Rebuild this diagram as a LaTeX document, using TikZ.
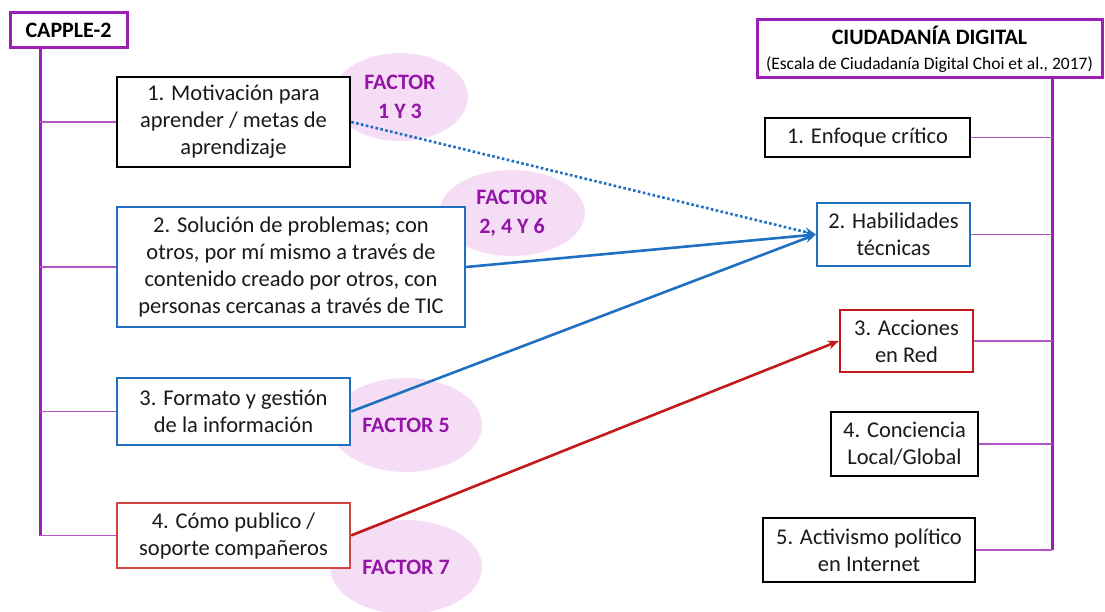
\documentclass[tikz,border=0pt]{standalone}
\usepackage{fontspec}
\setmainfont{Carlito}
\usetikzlibrary{shapes.geometric,arrows.meta}
\definecolor{pframe}{HTML}{9E1FB8}
\definecolor{ptext}{HTML}{9414A8}
\definecolor{pthin}{HTML}{B455C8}
\definecolor{pinkfill}{HTML}{F6DDF6}
\definecolor{cblue}{HTML}{1F70C1}
\definecolor{cred}{HTML}{C21A1A}
\definecolor{cred2}{HTML}{D2443F}
\definecolor{tcol}{HTML}{1A1A1A}
\tikzset{
  boxbase/.style={draw, line width=2.4pt, fill=white, align=center, inner sep=0pt,
    text=tcol, font=\fontsize{22.5}{27}\selectfont},
  blackbox/.style={boxbase, draw=black},
  bluebox/.style={boxbase, draw=cblue},
  redbox/.style={boxbase, draw=cred},
  redbox2/.style={boxbase, draw=cred2},
  titlebox/.style={draw=pframe, line width=3pt, fill=white, align=center, inner sep=0pt, text=black},
  factor/.style={ellipse, fill=pinkfill, inner sep=0pt, align=center, text=ptext,
    font=\bfseries\fontsize{22}{29}\selectfont},
  trunk/.style={draw=pframe, line width=3pt},
  branch/.style={draw=pthin, line width=1.3pt},
  arr/.style={line width=2.6pt, -{Stealth[length=11pt,width=9pt]}},
}
\begin{document}
\begin{tikzpicture}[x=1pt,y=-1pt]
\useasboundingbox (0,0) rectangle (1105,612);

% factor ellipses (behind)
\node[factor, minimum width=136, minimum height=88] (e1) at (400,97) {FACTOR\\1 Y 3};
\node[factor, minimum width=146, minimum height=86] (e2) at (512,213) {FACTOR\\2, 4 Y 6};
\node[factor, minimum width=152, minimum height=94] (e3) at (406,425) {FACTOR 5};
\node[factor, minimum width=152, minimum height=94] (e4) at (406,567) {FACTOR 7};

% left side
\node[titlebox, minimum width=117, minimum height=35, font=\bfseries\fontsize{22}{27}\selectfont] (capple) at (68.5,30.5) {CAPPLE-2};
\node[blackbox, minimum width=233, minimum height=90] (b1) at (233.5,122) {1. Motivación para\\aprender / metas de\\aprendizaje};
\node[bluebox, minimum width=348, minimum height=120] (b2) at (291,267) {2. Solución de problemas; con\\otros, por mí mismo a través de\\contenido creado por otros, con\\personas cercanas a través de TIC};
\node[bluebox, minimum width=233, minimum height=67] (b3) at (233.5,411.5) {3. Formato y gestión\\de la información};
\node[redbox2, minimum width=233, minimum height=65] (b4) at (233.5,535.5) {4. Cómo publico /\\soporte compañeros};

\coordinate (lb) at (40,535.5);
\draw[trunk] (capple.south -| lb) -- (lb);
\draw[branch] (b1.west) -- (b1.west -| lb);
\draw[branch] (b2.west) -- (b2.west -| lb);
\draw[branch] (b3.west) -- (b3.west -| lb);
\draw[branch] (b4.west) -- (b4.west -| lb);

% right side
\node[titlebox, minimum width=345, minimum height=58, font=\fontsize{17.5}{25}\selectfont] (cd) at (929.5,49)
  {{\bfseries\fontsize{22}{25}\selectfont CIUDADANÍA DIGITAL}\\
   (Escala de Ciudadanía Digital Choi et al., 2017)};
\node[blackbox, minimum width=205, minimum height=39] (r1) at (867.5,137.5) {1. Enfoque crítico};
\node[bluebox, minimum width=153, minimum height=63] (r2) at (893.5,234.5) {2. Habilidades\\técnicas};
\node[redbox, minimum width=133, minimum height=62] (r3) at (906.5,341) {3. Acciones\\en Red};
\node[blackbox, minimum width=147, minimum height=64] (r4) at (904.5,444) {4. Conciencia\\Local/Global};
\node[blackbox, minimum width=212, minimum height=64] (r5) at (869,550) {5. Activismo político\\en Internet};

\coordinate (rb) at (1052,550);
\draw[trunk] (cd.south -| rb) -- (rb);
\draw[branch] (r1.east) -- (r1.east -| rb);
\draw[branch] (r2.east) -- (r2.east -| rb);
\draw[branch] (r3.east) -- (r3.east -| rb);
\draw[branch] (r4.east) -- (r4.east -| rb);
\draw[branch] (r5.east) -- (r5.east -| rb);

% arrows
\draw[arr, cblue, dash pattern=on 2.6pt off 2.4pt] (b1.east) -- (r2.west);
\draw[arr, cblue] (b2.east) -- (r2.west);
\draw[arr, cblue] (b3.east) -- (r2.west);
\draw[arr, cred] (b4.east) -- (r3.west);
\end{tikzpicture}
\end{document}
